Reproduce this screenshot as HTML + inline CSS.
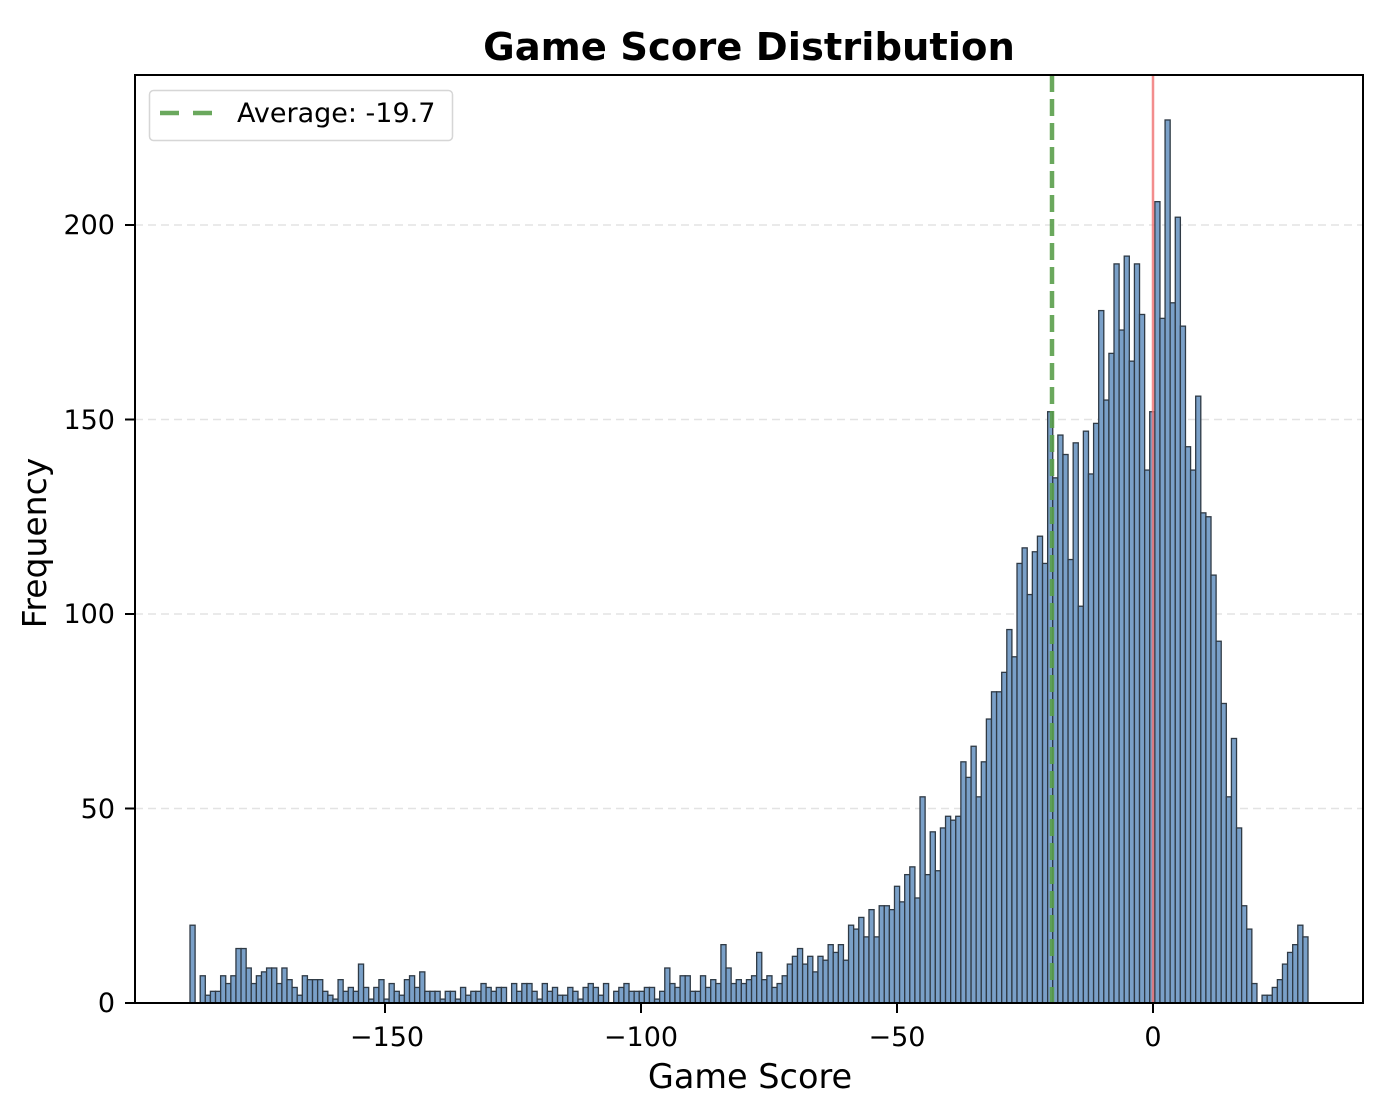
<!DOCTYPE html>
<html><head><meta charset="utf-8"><style>
html,body{margin:0;padding:0;background:#fff;}
svg{display:block;font-family:"DejaVu Sans","Liberation Sans",sans-serif;}
</style></head><body>
<svg id="s" width="1394" height="1114" viewBox="0 0 1394 1114" xmlns="http://www.w3.org/2000/svg">
<rect width="1394" height="1114" fill="#fff"/>
<g id="grid" stroke="#e3e3e3" stroke-width="1.5" stroke-dasharray="8,5">
<line x1="135" x2="1363" y1="808.5" y2="808.5"/>
<line x1="135" x2="1363" y1="614" y2="614"/>
<line x1="135" x2="1363" y1="419.5" y2="419.5"/>
<line x1="135" x2="1363" y1="225" y2="225"/>
</g>
<g id="bars" fill="#7aa0c8" stroke="#2f3a45" stroke-width="1.3"></g>
<line x1="1052" x2="1052" y1="75" y2="1003" stroke="#5a9e4b" stroke-opacity="0.9" stroke-width="4.5" stroke-dasharray="17,7"/>
<line x1="1153" x2="1153" y1="75" y2="1003" stroke="#f07070" stroke-opacity="0.8" stroke-width="2.5"/>
<rect x="135" y="75" width="1228" height="928" fill="none" stroke="#000" stroke-width="2"/>
<g stroke="#000" stroke-width="2">
<line x1="385" x2="385" y1="1003" y2="1013"/>
<line x1="641" x2="641" y1="1003" y2="1013"/>
<line x1="897" x2="897" y1="1003" y2="1013"/>
<line x1="1153" x2="1153" y1="1003" y2="1013"/>
<line x1="125" x2="135" y1="1003" y2="1003"/>
<line x1="125" x2="135" y1="808.5" y2="808.5"/>
<line x1="125" x2="135" y1="614" y2="614"/>
<line x1="125" x2="135" y1="419.5" y2="419.5"/>
<line x1="125" x2="135" y1="225" y2="225"/>
</g>
<g font-size="27" fill="#000" text-anchor="middle">
<text x="387" y="1046">−150</text>
<text x="641" y="1046">−100</text>
<text x="897" y="1046">−50</text>
<text x="1153" y="1046">0</text>
</g>
<g font-size="27" fill="#000" text-anchor="end">
<text x="115" y="1012">0</text>
<text x="115" y="818">50</text>
<text x="115" y="623">100</text>
<text x="115" y="429">150</text>
<text x="115" y="234">200</text>
</g>
<text x="750" y="1088" font-size="33.5" text-anchor="middle">Game Score</text>
<text transform="translate(46,543) rotate(-90)" font-size="33" text-anchor="middle">Frequency</text>
<text x="749" y="60" font-size="38.5" font-weight="bold" text-anchor="middle">Game Score Distribution</text>
<rect x="149.5" y="90.5" width="303" height="50" rx="4" fill="#fff" fill-opacity="0.85" stroke="#d6d6d6" stroke-width="1.5"/>
<line x1="160" x2="212" y1="113" y2="113" stroke="#5a9e4b" stroke-opacity="0.9" stroke-width="4.5" stroke-dasharray="19,14"/>
<text x="237" y="122" font-size="27" fill="#000">Average: -19.7</text>
</svg>
<script>
var d=[20,0,7,2,3,3,7,5,7,14,14,9,5,7,8,9,9,5,9,6,4,2,7,6,6,6,3,2,1,6,3,4,3,10,4,1,4,6,1,5,3,2,6,7,4,8,3,3,3,1,3,3,1,4,2,3,3,5,4,3,4,4,0,5,3,5,5,3,1,5,3,4,2,2,4,3,1,4,5,4,2,5,0,3,4,5,3,3,
3,4,4,1,3,9,5,4,7,7,3,3,7,4,6,5,15,9,5,6,5,6,7,13,6,7,4,5,7,10,12,14,10,12,8,12,11,15,13,15,11,20,19,22,17,24,17,25,25,24,30,26,33,35,27,53,33,44,34,45,48,47,48,62,58,66,53,
62,73,80,80,85,96,89,113,117,105,116,120,113,152,135,146,141,114,144,102,147,136,149,178,155,167,190,173,192,165,190,177,137,152,206,176,227,180,202,174,143,137,156,126,125,110,93,77,53,68,45,25,19,5,0,2,2,4,6,10,13,15,20,17];
var N=d.length,x0=190,x1=1308,w=(x1-x0)/N,g=document.getElementById('bars'),h='';
for(var i=0;i<N;i++){if(d[i]<=0)continue;var hh=d[i]*3.89;h+='<rect x="'+(x0+i*w).toFixed(2)+'" y="'+(1003-hh).toFixed(2)+'" width="'+w.toFixed(2)+'" height="'+hh.toFixed(2)+'"/>';}
g.innerHTML=h;
</script>
</body></html>
